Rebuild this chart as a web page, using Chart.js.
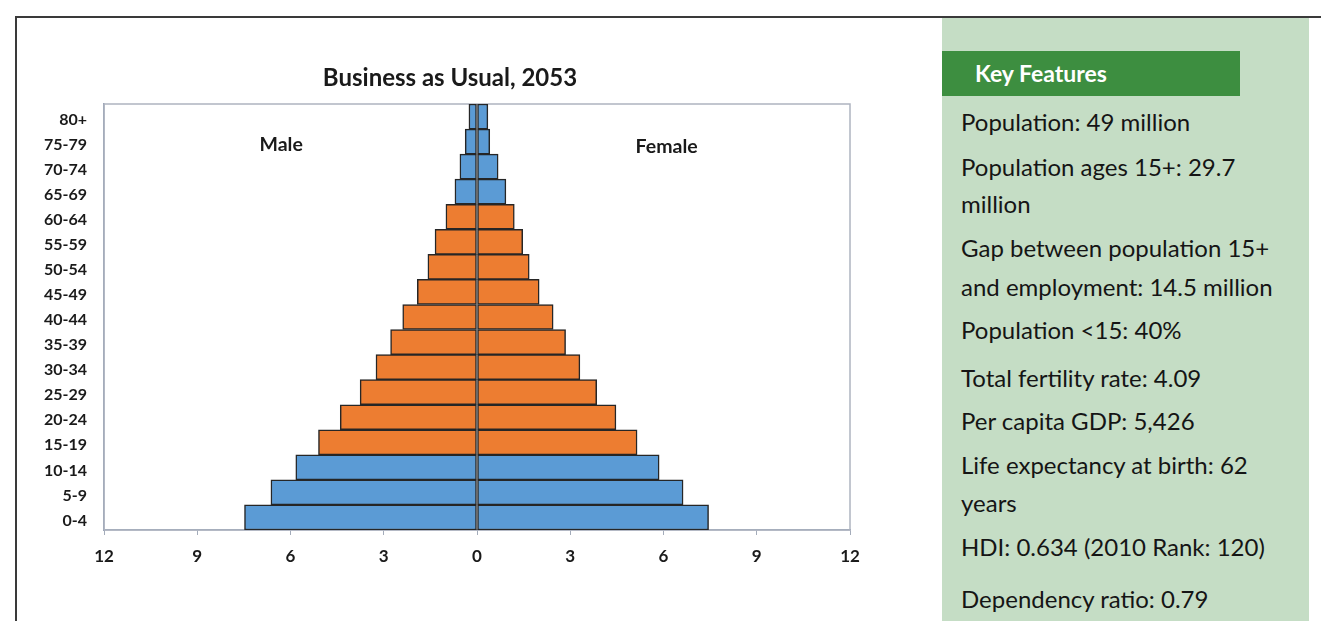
<!DOCTYPE html>
<html>
<head>
<meta charset="utf-8">
<script src="https://cdn.jsdelivr.net/npm/chart.js@4"></script>
<style>
  body { margin: 0; background: #fff; width: 1321px; height: 621px; overflow: hidden; position: relative; font-family: Lato, sans-serif; }
  #frame { position: absolute; left: 15px; top: 16px; width: 1310px; height: 610px; border-top: 2px solid #3a3a3a; border-left: 2px solid #3a3a3a; }
  #chartBox { position: absolute; left: 0; top: 0; width: 900px; height: 621px; }
  #panel { position: absolute; left: 942px; top: 18px; width: 367px; height: 603px; background: #c5ddc5; }
  #panelHead { position: absolute; left: 942px; top: 51px; width: 298px; height: 45px; background: #3d8e40; color: #fff; font-weight: bold; font-size: 23px; line-height: 45px; box-sizing: border-box; padding-left: 33px; }
  .kf { position: absolute; left: 961px; font-size: 24px; line-height: 30px; color: #151515; white-space: nowrap; }
</style>
</head>
<body>
<div id="frame"></div>
<div id="panel"></div>
<div id="panelHead">Key Features</div>
<div id="chartBox"><canvas id="pyramid" width="900" height="621"></canvas></div>
<script>
// age groups, top to bottom as in the picture
const ageGroups = ['80+', '75-79', '70-74', '65-69', '60-64', '55-59', '50-54', '45-49', '40-44',
                   '35-39', '30-34', '25-29', '20-24', '15-19', '10-14', '5-9', '0-4'];
// millions
const maleValues   = [0.26, 0.38, 0.55, 0.71, 1.00, 1.35, 1.58, 1.92, 2.39, 2.78, 3.25, 3.76, 4.40, 5.10, 5.83, 6.63, 7.48];
const femaleValues = [0.35, 0.41, 0.68, 0.93, 1.20, 1.47, 1.68, 2.00, 2.45, 2.85, 3.31, 3.85, 4.47, 5.15, 5.86, 6.63, 7.45];
const workingAge = ['15-19', '20-24', '25-29', '30-34', '35-39', '40-44', '45-49', '50-54', '55-59', '60-64'];
const xTicks = [-12, -9, -6, -3, 0, 3, 6, 9, 12];
const sideLabels = ['Male', 'Female'];
const chartTitle = 'Business as Usual, 2053';

const keyFeatures = [
  'Population: 49 million',
  'Population ages 15+: 29.7',
  'million',
  'Gap between population 15+',
  'and employment: 14.5 million',
  'Population <15: 40%',
  'Total fertility rate: 4.09',
  'Per capita GDP: 5,426',
  'Life expectancy at birth: 62',
  'years',
  'HDI: 0.634 (2010 Rank: 120)',
  'Dependency ratio: 0.79'
];
const featureCenters = [122, 167, 204, 248, 287, 330, 378, 421, 465, 503, 547, 599];

keyFeatures.forEach((t, i) => {
  const d = document.createElement('div');
  d.className = 'kf';
  d.textContent = t;
  d.style.top = (featureCenters[i] - 15) + 'px';
  document.body.appendChild(d);
});

const BLUE = '#5b9bd5';
const ORANGE = '#ed7d31';
const barColors = ageGroups.map(a => workingAge.includes(a) ? ORANGE : BLUE);

// frame round the plot area, title over the whole canvas, Male/Female captions
const plotDecor = {
  id: 'plotDecor',
  beforeDatasetsDraw(chart) {
    const { ctx, chartArea: a } = chart;
    ctx.save();
    ctx.strokeStyle = '#aeb4c0';
    ctx.lineWidth = 1.5;
    ctx.strokeRect(a.left, a.top, a.right - a.left, a.bottom - a.top);
    ctx.restore();
  },
  afterDatasetsDraw(chart) {
    const { ctx, scales } = chart;
    ctx.save();
    ctx.fillStyle = '#1a1a1a';
    ctx.textAlign = 'center';
    ctx.textBaseline = 'middle';
    ctx.font = 'bold 24px Lato';
    ctx.fillText(chartTitle, chart.width / 2, 78);
    ctx.font = 'bold 19.5px Lato';
    ctx.fillText(sideLabels[0], scales.x.getPixelForValue(-6.3), scales.y.getPixelForValue(1) + 3);
    ctx.fillText(sideLabels[1], scales.x.getPixelForValue(6.1), scales.y.getPixelForValue(1) + 5);
    ctx.restore();
  }
};

new Chart(document.getElementById('pyramid'), {
  type: 'bar',
  data: {
    labels: ageGroups,
    datasets: [{
      label: 'Male',
      data: maleValues.map(v => -v),
      backgroundColor: barColors,
      borderColor: '#262626',
      borderWidth: 1.5,
      borderSkipped: false
    }, {
      label: 'Female',
      data: femaleValues,
      backgroundColor: barColors,
      borderColor: '#262626',
      borderWidth: 1.5,
      borderSkipped: false
    }]
  },
  options: {
    indexAxis: 'y',
    responsive: false,
    animation: false,
    devicePixelRatio: 1,
    barPercentage: 1,
    categoryPercentage: 1,
    layout: { padding: { left: 0, right: 50, top: 104, bottom: 0 } },
    plugins: {
      legend: { display: false },
      tooltip: { enabled: false },
      title: { display: false }
    },
    scales: {
      x: {
        stacked: true,
        min: -12,
        max: 12,
        afterBuildTicks(scale) { scale.ticks = xTicks.map(v => ({ value: v })); },
        afterFit(scale) { scale.height = 91; },
        ticks: {
          callback: v => Math.abs(v),
          color: '#1a1a1a',
          font: { family: 'Lato', size: 17, weight: 'bold' },
          padding: 11,
          maxRotation: 0
        },
        grid: { display: true, drawOnChartArea: false, drawTicks: true, tickLength: 5, color: '#a4acba' },
        border: { display: true, color: '#8f9bb0', width: 1.5 }
      },
      y: {
        stacked: true,
        afterFit(scale) { scale.width = 104; },
        ticks: {
          color: '#1a1a1a',
          font: { family: 'Lato', size: 16, weight: 'bold' },
          padding: 17,
          labelOffset: 3
        },
        grid: { display: false, drawTicks: false },
        border: { display: true, color: '#8594ad', width: 1.5 }
      }
    }
  },
  plugins: [plotDecor]
});
</script>
</body>
</html>
